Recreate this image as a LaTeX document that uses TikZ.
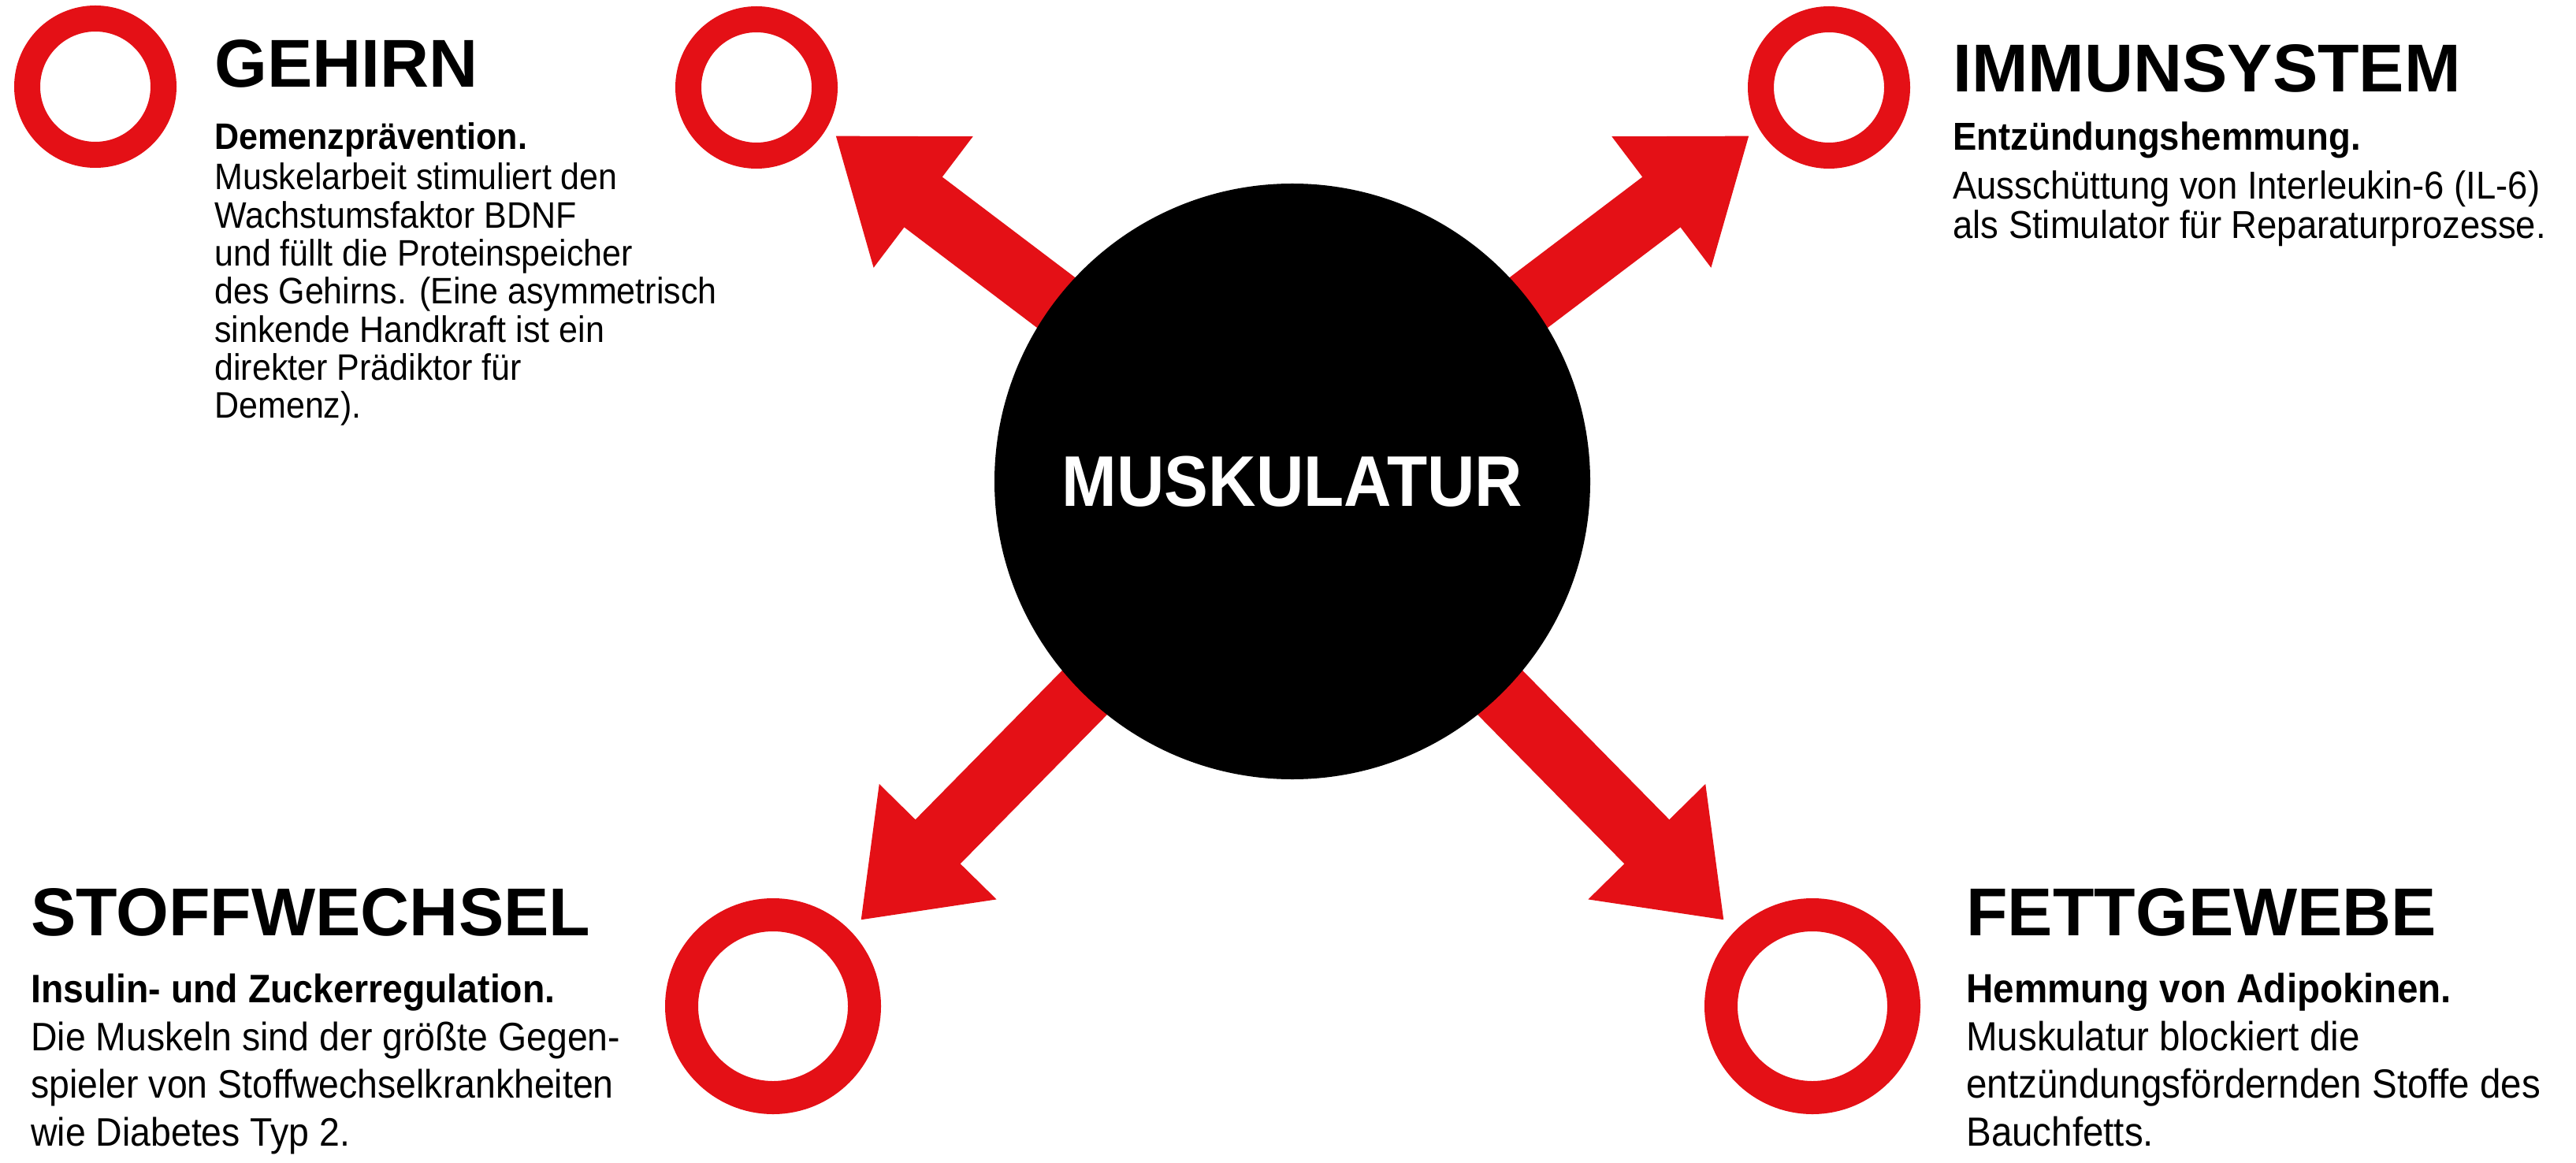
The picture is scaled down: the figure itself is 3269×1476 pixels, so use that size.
\documentclass[tikz,border=0pt]{standalone}
\usepackage{fontspec}
\setmainfont{Liberation Sans}
\newfontfamily\condf[FakeStretch=0.92]{Liberation Sans}
\usetikzlibrary{arrows.meta}
\pgfdeclarelayer{bg}
\pgfsetlayers{bg,main}
\definecolor{rred}{RGB}{228,16,22}
\tikzset{
  ring/.style={circle, draw=rred, line width=6.6mm, minimum size=34.6mm, inner sep=0pt},
  bigring/.style={circle, draw=rred, line width=8.4mm, minimum size=46.4mm, inner sep=0pt},
  spoke/.style={draw=rred, line width=16mm, -{Triangle[length=28mm, width=39.8mm]}},
  hub/.style={circle, fill=black, minimum size=151.2mm, inner sep=0pt, text=white,
    font=\condf\fontsize{51.8}{52}\selectfont\bfseries},
  ttl/.style={anchor=base west, inner sep=0pt, font=\fontsize{48.9}{50}\selectfont\bfseries},
  txt/.style={anchor=base west, inner sep=0pt},
  fA/.style={font=\condf\fontsize{26.6}{27.3}\selectfont},
  fB/.style={font=\condf\fontsize{28.1}{26.2}\selectfont},
  fC/.style={font=\condf\fontsize{28.7}{34.7}\selectfont},
  fD/.style={font=\condf\fontsize{29.4}{34.7}\selectfont}
}
\begin{document}
\begin{tikzpicture}[x=0.2mm, y=-0.2mm]
  \useasboundingbox (0,0) rectangle (3269,1476);

  % rings
  \node[ring] (rA) at (121,110) {};
  \node[ring] (rB) at (960,111) {};
  \node[ring] (rC) at (2321,111) {};
  \node[bigring] (rD) at (981,1277) {};
  \node[bigring] (rE) at (2300,1277) {};

  % hub
  \node[hub] (mus) at (1640,611) {MUSKULATUR};

  % arrow tips
  \coordinate (tTL) at (1060,172);
  \coordinate (tTR) at (2220,172);
  \coordinate (tBL) at (1092,1168);
  \coordinate (tBR) at (2188,1168);

  \begin{pgfonlayer}{bg}
    \fill[white] (0,0) rectangle (3269,1476);
    \draw[spoke] (mus.center) -- (tTL);
    \draw[spoke] (mus.center) -- (tTR);
    \draw[spoke] (mus.center) -- (tBL);
    \draw[spoke] (mus.center) -- (tBR);
  \end{pgfonlayer}

  % GEHIRN
  \node[ttl] (t1) at (272,111) {GEHIRN};
  \node[txt, fA] (s1) at (272,190) {\bfseries Demenzprävention.};
  \node[txt, fA] (b1) at (272,241) {\begin{tabular}[t]{@{}l@{}}Muskelarbeit stimuliert den\\
    Wachstumsfaktor BDNF\\ und füllt die Proteinspeicher\\ des Gehirns. (Eine asymmetrisch\\
    sinkende Handkraft ist ein\\ direkter Prädiktor für\\ Demenz).\end{tabular}};

  % IMMUNSYSTEM
  \node[ttl] (t2) at (2478,117) {IMMUNSYSTEM};
  \node[txt, fB] (s2) at (2478,191) {\bfseries Entzündungshemmung.};
  \node[txt, fB] (b2) at (2478,253) {\begin{tabular}[t]{@{}l@{}}Ausschüttung von Interleukin-6 (IL-6)\\
    als Stimulator für Reparaturprozesse.\end{tabular}};

  % STOFFWECHSEL
  \node[ttl] (t3) at (39,1187) {STOFFWECHSEL};
  \node[txt, fC] (s3) at (39,1272) {\bfseries Insulin- und Zuckerregulation.};
  \node[txt, fC] (b3) at (39,1333) {\begin{tabular}[t]{@{}l@{}}Die Muskeln sind der größte Gegen-\\
    spieler von Stoffwechselkrankheiten\\ wie Diabetes Typ 2.\end{tabular}};

  % FETTGEWEBE
  \node[ttl] (t4) at (2495,1187) {FETTGEWEBE};
  \node[txt, fD] (s4) at (2495,1272) {\bfseries Hemmung von Adipokinen.};
  \node[txt, fD] (b4) at (2495,1333) {\begin{tabular}[t]{@{}l@{}}Muskulatur blockiert die\\
    entzündungsfördernden Stoffe des\\ Bauchfetts.\end{tabular}};
\end{tikzpicture}
\end{document}
